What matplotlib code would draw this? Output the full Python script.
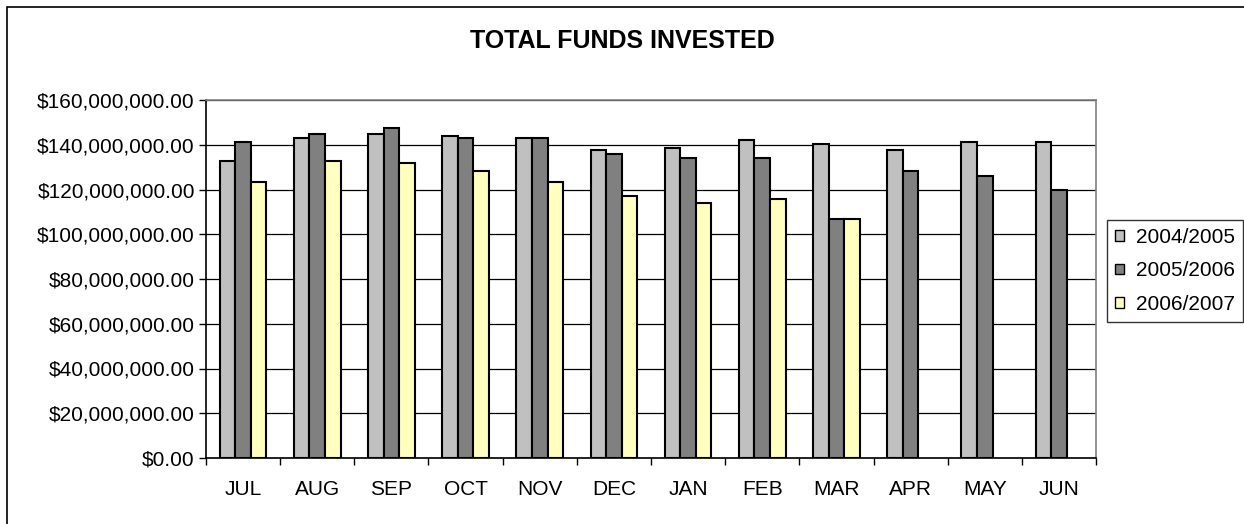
import matplotlib
matplotlib.use("Agg")
import matplotlib.pyplot as plt
import numpy as np
from matplotlib.patches import Rectangle

months = ["JUL", "AUG", "SEP", "OCT", "NOV", "DEC", "JAN", "FEB", "MAR", "APR", "MAY", "JUN"]
fy0405 = [132.6, 143.0, 145.0, 144.1, 143.0, 137.8, 138.6, 142.3, 140.5, 137.8, 141.4, 141.4]
fy0506 = [141.4, 145.0, 147.5, 143.0, 143.0, 136.0, 134.2, 134.2, 106.6, 128.1, 126.2, 120.0]
fy0607 = [123.5, 132.6, 131.7, 128.1, 123.5, 117.2, 113.8, 115.6, 106.6]
series_names = ["2004/2005", "2005/2006", "2006/2007"]
yticks = [0, 20, 40, 60, 80, 100, 120, 140, 160]

plt.rcParams['font.family'] = ['Liberation Sans', 'DejaVu Sans']

fig = plt.figure(figsize=(12.44, 5.24), dpi=100)
W, H = 1244, 524
ax = fig.add_axes([206 / W, 1 - 458 / H, (1096 - 206) / W, (458 - 100) / H])

colors = ["#C0C0C0", "#808080", "#FFFFC0"]
bw = 0.21
x = np.arange(len(months))
data = [fy0405, fy0506, fy0607]
for i, (vals, c, name) in enumerate(zip(data, colors, series_names)):
    xs = x[:len(vals)] + (i - 1) * bw
    ax.bar(xs, np.array(vals) * 1e6, width=bw, color=c, edgecolor="black",
           linewidth=1.5, label=name, zorder=3)

fs = 15
ax.set_xlim(-0.5, len(months) - 0.5)
ax.set_ylim(0, 160e6)
ax.set_yticks([v * 1e6 for v in yticks])
ax.set_yticklabels(["${:,.2f}".format(v * 1e6) for v in yticks], fontsize=fs)
ax.yaxis.grid(True, color="black", linewidth=0.9, zorder=0)
ax.set_xticks(x)
ax.set_xticklabels(months, fontsize=fs)
ax.set_xticks(np.arange(-0.5, len(months)), minor=True)
ax.tick_params(axis="x", which="major", length=0, pad=16)
ax.tick_params(axis="x", which="minor", length=5, width=1, direction="out")
ax.tick_params(axis="y", length=5, width=1, direction="out", pad=3)
for side in ["top", "right"]:
    ax.spines[side].set_color("#808080")
    ax.spines[side].set_linewidth(1.2)
for side in ["left", "bottom"]:
    ax.spines[side].set_color("black")
    ax.spines[side].set_linewidth(1.2)

fig.text(0.5, 1 - 41 / H, "TOTAL FUNDS INVESTED", ha="center", va="center",
         fontsize=18, fontweight="bold")

leg = fig.legend(loc="center left", bbox_to_anchor=(1107 / W, 1 - 271 / H),
                 fontsize=fs, frameon=True, fancybox=False, edgecolor="black",
                 handlelength=0.42, handleheight=0.42, handletextpad=0.55,
                 labelspacing=0.7, borderpad=0.4, borderaxespad=0)
leg.get_frame().set_linewidth(1.0)
for h in leg.legend_handles:
    h.set_linewidth(1.0)

fig.patches.append(Rectangle((7 / W, -0.05), 1.1, 1.05 - 7 / H,
                             transform=fig.transFigure, fill=False,
                             edgecolor="black", linewidth=1.2))

fig.savefig("out.png", dpi=100)
